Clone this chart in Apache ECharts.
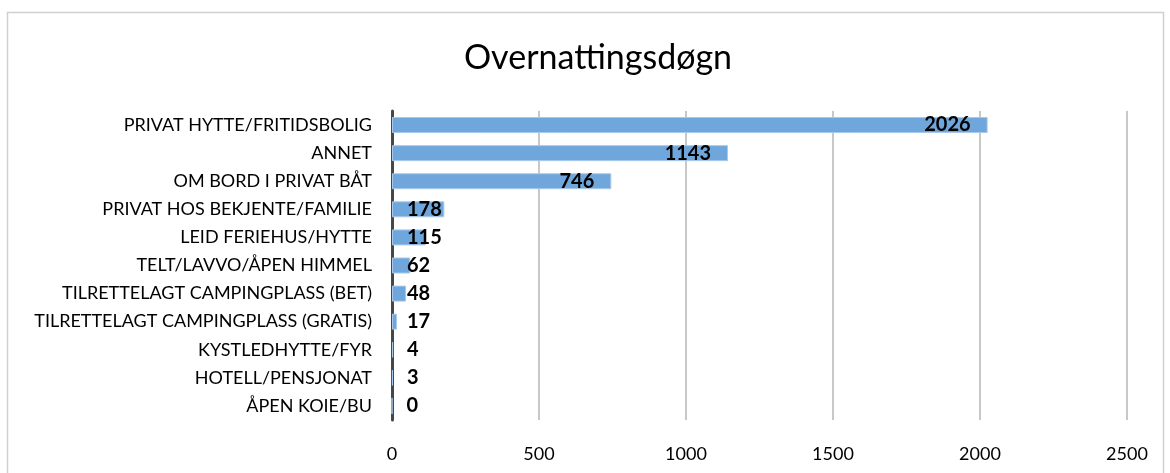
<!DOCTYPE html>
<html>
<head>
<meta charset="utf-8">
<script src="https://cdn.jsdelivr.net/npm/echarts@6/dist/echarts.min.js"></script>
<style>
  body { margin: 0; background: #fff; }
  #chart { width: 1170px; height: 473px; }
</style>
</head>
<body>
<div id="chart"></div>
<script>
// Overnattingsdøgn - horizontal bars, top category first
const chartTitle = 'Overnattingsdøgn';
const categories = [
  'PRIVAT HYTTE/FRITIDSBOLIG',
  'ANNET',
  'OM BORD I PRIVAT BÅT',
  'PRIVAT HOS BEKJENTE/FAMILIE',
  'LEID FERIEHUS/HYTTE',
  'TELT/LAVVO/ÅPEN HIMMEL',
  'TILRETTELAGT CAMPINGPLASS (BET)',
  'TILRETTELAGT CAMPINGPLASS (GRATIS)',
  'KYSTLEDHYTTE/FYR',
  'HOTELL/PENSJONAT',
  'ÅPEN KOIE/BU'
];
const values = [2026, 1143, 746, 178, 115, 62, 48, 17, 4, 3, 0];
const xTicks = [0, 500, 1000, 1500, 2000, 2500];

const FONT = 'Lato, "Open Sans", sans-serif';

// long bars get the label inside the end, short ones just right of the axis
const barData = values.map(v => ({
  value: v,
  label: v >= 500
    ? { position: 'insideRight', distance: 17 }
    : { position: 'insideLeft', distance: 15 }
}));

const chart = echarts.init(document.getElementById('chart'));
chart.setOption({
  animation: false,
  title: {
    text: chartTitle,
    left: 593,
    textAlign: 'center',
    top: 36,
    textStyle: { fontFamily: FONT, fontSize: 34, fontWeight: 'normal', color: '#000' }
  },
  graphic: [{
    type: 'rect',
    shape: { x: 7.5, y: 12.5, width: 1156, height: 480 },
    style: { fill: 'none', stroke: '#d0d0d0', lineWidth: 1.5 },
    silent: true
  }],
  grid: { left: 392, top: 111, width: 735, height: 309 },
  xAxis: {
    type: 'value',
    min: 0,
    max: xTicks[xTicks.length - 1],
    interval: 500,
    axisLine: { show: false },
    axisTick: { show: false },
    axisLabel: { fontFamily: FONT, fontSize: 18, color: '#000', margin: 25, formatter: v => String(v) },
    splitLine: { lineStyle: { color: '#c8c8c8', width: 2 } }
  },
  yAxis: {
    type: 'category',
    data: categories,
    inverse: true,
    axisLine: { lineStyle: { color: '#474747', width: 3 } },
    axisTick: { show: false },
    axisLabel: { fontFamily: FONT, fontSize: 18, color: '#000', margin: 20 }
  },
  series: [{
    type: 'bar',
    data: barData,
    barCategoryGap: '43%',
    itemStyle: { color: '#6fa7dc', borderColor: '#a9c9ea', borderWidth: 1 },
    label: {
      show: true,
      fontFamily: FONT,
      fontSize: 20,
      fontWeight: 'bold',
      color: '#000'
    }
  }]
});
</script>
</body>
</html>
